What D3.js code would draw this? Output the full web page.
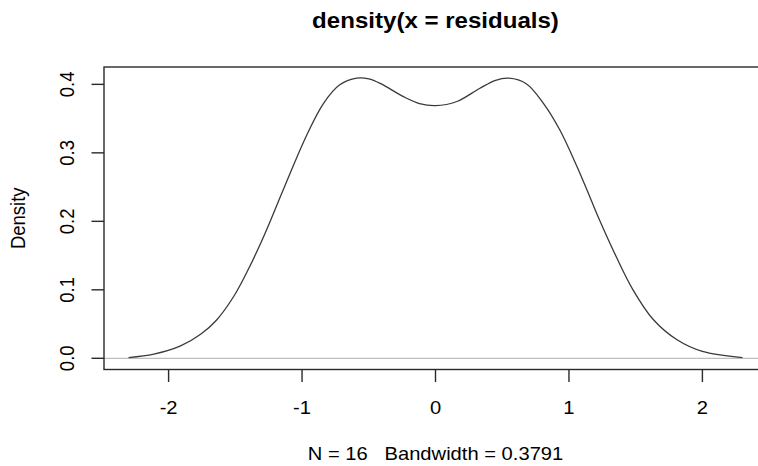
<!DOCTYPE html>
<html>
<head>
<meta charset="utf-8">
<script src="https://cdn.jsdelivr.net/npm/d3@7"></script>
<style>
  html, body { margin: 0; padding: 0; background: #fff; }
  svg { display: block; }
</style>
</head>
<body>
<div id="chart"></div>
<script>
// density curve (x = residual, y = density)
var densX = [-2.30, -2.11, -1.91, -1.76, -1.64, -1.51, -1.41, -1.31, -1.23, -1.09,
             -0.96, -0.84, -0.72, -0.59, -0.50, -0.41, -0.24, -0.12, 0.00, 0.16,
             0.33, 0.45, 0.55, 0.68, 0.81, 0.93, 1.06, 1.16, 1.22, 1.36,
             1.48, 1.63, 1.81, 2.00, 2.30];
var densY = [0.001, 0.006, 0.018, 0.035, 0.056, 0.091, 0.127, 0.168, 0.204, 0.270,
             0.328, 0.372, 0.399, 0.409, 0.408, 0.401, 0.382, 0.372, 0.369, 0.375,
             0.394, 0.406, 0.409, 0.401, 0.372, 0.334, 0.280, 0.234, 0.206, 0.146,
             0.100, 0.057, 0.027, 0.010, 0.001];
var xTicks = [-2, -1, 0, 1, 2];
var yTicks = [0.0, 0.1, 0.2, 0.3, 0.4];
var yTickLabels = ["0.0", "0.1", "0.2", "0.3", "0.4"];
var titleText = "density(x = residuals)";
var xLabel = "N = 16   Bandwidth = 0.3791";
var yLabel = "Density";

var W = 758, H = 466;
var plot = { left: 104, right: 767, top: 67, bottom: 369.5 };
var stretch = 1.12; // text in the picture is a bit wide
var font = "'Liberation Sans', Arial, Helvetica, sans-serif";

var data = densX.map(function (d, i) { return { x: d, y: densY[i] }; });

/*
 * R style limits: data range plus 4% each side
 */
function padRange(ext) {
    var p = (ext[1] - ext[0]) * 0.04;
    return [ext[0] - p, ext[1] + p];
}

var x = d3.scaleLinear()
    .domain(padRange(d3.extent(densX)))
    .range([plot.left, plot.right]);
var y = d3.scaleLinear()
    .domain(padRange([0, d3.max(densY)]))
    .range([plot.bottom, plot.top]);

var svg = d3.select("#chart").append("svg")
    .attr("width", W)
    .attr("height", H)
    .attr("viewBox", "0 0 " + W + " " + H);

// zero line
svg.append("line")
    .attr("x1", plot.left).attr("x2", plot.right)
    .attr("y1", y(0)).attr("y2", y(0))
    .attr("stroke", "#bebebe")
    .attr("stroke-width", 1.2);

// density curve
var line = d3.line()
    .x(function (d) { return x(d.x); })
    .y(function (d) { return y(d.y); })
    .curve(d3.curveCatmullRom.alpha(0.5));

svg.append("path")
    .datum(data)
    .attr("d", line)
    .attr("fill", "none")
    .attr("stroke", "#3a3a3a")
    .attr("stroke-width", 1.3);

// box
svg.append("rect")
    .attr("x", plot.left).attr("y", plot.top)
    .attr("width", plot.right - plot.left)
    .attr("height", plot.bottom - plot.top)
    .attr("fill", "none")
    .attr("stroke", "#2a2a2a")
    .attr("stroke-width", 1.4);

// x axis ticks and labels
var xg = svg.append("g").attr("class", "x-axis");
xg.selectAll("line")
    .data(xTicks)
    .enter().append("line")
    .attr("x1", function (d) { return x(d); })
    .attr("x2", function (d) { return x(d); })
    .attr("y1", plot.bottom)
    .attr("y2", plot.bottom + 12.5)
    .attr("stroke", "#2a2a2a")
    .attr("stroke-width", 1.4);
xg.selectAll("text")
    .data(xTicks)
    .enter().append("text")
    .attr("transform", function (d) { return "translate(" + x(d) + ",414.3) scale(" + stretch + ",1)"; })
    .attr("text-anchor", "middle")
    .attr("font-family", font)
    .attr("font-size", 18)
    .attr("fill", "#000")
    .text(function (d) { return d; });

// y axis ticks and labels
var yg = svg.append("g").attr("class", "y-axis");
yg.selectAll("line")
    .data(yTicks)
    .enter().append("line")
    .attr("x1", plot.left)
    .attr("x2", plot.left - 12.5)
    .attr("y1", function (d) { return y(d); })
    .attr("y2", function (d) { return y(d); })
    .attr("stroke", "#2a2a2a")
    .attr("stroke-width", 1.4);
yg.selectAll("text")
    .data(yTicks)
    .enter().append("text")
    .attr("transform", function (d) { return "translate(74," + y(d) + ") scale(" + stretch + ",1) rotate(-90)"; })
    .attr("text-anchor", "middle")
    .attr("font-family", font)
    .attr("font-size", 18.5)
    .attr("fill", "#000")
    .text(function (d, i) { return yTickLabels[i]; });

// titles
svg.append("text")
    .attr("transform", "translate(" + ((plot.left + plot.right) / 2) + ",28.3) scale(" + stretch + ",1)")
    .attr("text-anchor", "middle")
    .attr("font-family", font)
    .attr("font-size", 21.5)
    .attr("font-weight", "bold")
    .attr("fill", "#000")
    .text(titleText);

svg.append("text")
    .attr("transform", "translate(" + ((plot.left + plot.right) / 2) + ",460) scale(" + stretch + ",1)")
    .attr("text-anchor", "middle")
    .attr("font-family", font)
    .attr("font-size", 18)
    .attr("fill", "#000")
    .style("white-space", "pre")
    .text(xLabel);

svg.append("text")
    .attr("transform", "translate(25," + ((plot.top + plot.bottom) / 2) + ") scale(" + stretch + ",1) rotate(-90)")
    .attr("text-anchor", "middle")
    .attr("font-family", font)
    .attr("font-size", 18.5)
    .attr("fill", "#000")
    .text(yLabel);
</script>
</body>
</html>
